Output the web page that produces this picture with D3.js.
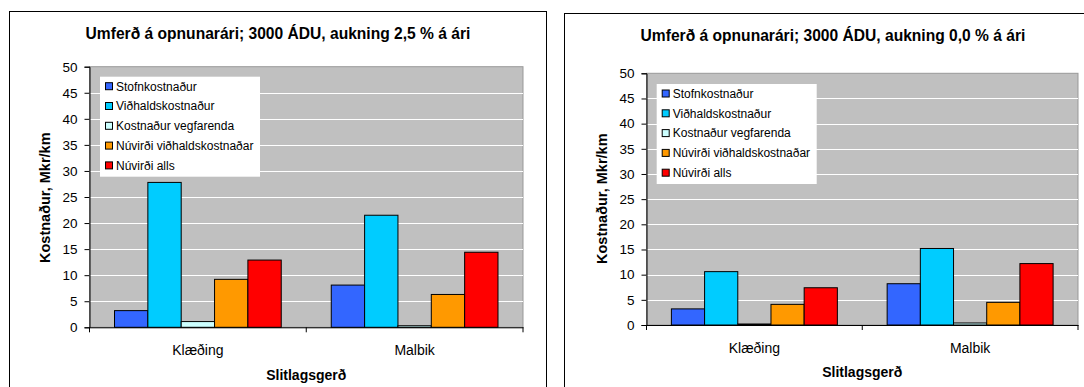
<!DOCTYPE html>
<html>
<head>
<meta charset="utf-8">
<script src="https://cdn.jsdelivr.net/npm/d3@7"></script>
<style>
  html, body { margin: 0; padding: 0; background: #fff; }
  svg { display: block; font-family: "Liberation Sans", Arial, sans-serif; }
</style>
</head>
<body>
<svg id="chart" width="1084" height="387"></svg>
<script>
// Categories and series
const categories = ["Klæðing", "Malbik"];
const seriesNames = [
  "Stofnkostnaður",
  "Viðhaldskostnaður",
  "Kostnaður vegfarenda",
  "Núvirði viðhaldskostnaðar",
  "Núvirði alls"
];
const seriesColors = ["#3366FF", "#00CCFF", "#CCFFFF", "#FF9900", "#FF0000"];

// Values (Mkr/km), one array per surface type, in series order
const growth25Klaeding = [3.2, 27.8, 1.1, 9.2, 12.9];
const growth25Malbik   = [8.1, 21.5, 0.3, 6.3, 14.4];
const growth00Klaeding = [3.2, 10.6, 0.2, 4.1, 7.4];
const growth00Malbik   = [8.2, 15.2, 0.4, 4.5, 12.2];

const yTicks = [0, 5, 10, 15, 20, 25, 30, 35, 40, 45, 50];
const yTitle = "Kostnaður, Mkr/km";
const xTitle = "Slitlagsgerð";
const titles = [
  "Umferð á opnunarári; 3000 ÁDU, aukning 2,5 % á ári",
  "Umferð á opnunarári; 3000 ÁDU, aukning 0,0 % á ári"
];

const panels = [
  {
    title: titles[0],
    values: [growth25Klaeding, growth25Malbik],
    frame: { x: 9.5, y: 11.5, w: 537 },
    plot: { left: 89.5, top: 66.7, right: 523, bottom: 327.3 },
    titleBase: 39, yTitleX: 49.5, yTitleY: 263, catBase: 355, xTitleBase: 379.5,
    legend: { x: 100, y: 76.7, w: 160, h: 100 }
  },
  {
    title: titles[1],
    values: [growth00Klaeding, growth00Malbik],
    frame: { x: 564.5, y: 13.5, w: 537 },
    plot: { left: 646.5, top: 73.3, right: 1078, bottom: 325 },
    titleBase: 41, yTitleX: 607, yTitleY: 264, catBase: 353, xTitleBase: 377,
    legend: { x: 656.7, y: 84, w: 160, h: 100 }
  }
];

const svg = d3.select("#chart");

panels.forEach(p => {
  const g = svg.append("g");

  // Chart frame (extends past the bottom / right edge)
  g.append("rect")
    .attr("x", p.frame.x).attr("y", p.frame.y)
    .attr("width", p.frame.w).attr("height", 400)
    .attr("fill", "#fff").attr("stroke", "#000").attr("stroke-width", 1);

  const y = d3.scaleLinear().domain([0, 50]).range([p.plot.bottom, p.plot.top]);
  const x0 = d3.scaleBand().domain(categories).range([p.plot.left, p.plot.right])
    .paddingInner(0).paddingOuter(0);
  const bw = x0.bandwidth();
  const gap = bw * 0.75 / 6.5; // gap width 150 %
  const x1 = d3.scaleBand().domain(seriesNames).range([gap, bw - gap]).padding(0);

  // Plot area
  g.append("rect")
    .attr("x", p.plot.left).attr("y", p.plot.top)
    .attr("width", p.plot.right - p.plot.left)
    .attr("height", p.plot.bottom - p.plot.top)
    .attr("fill", "#C0C0C0").attr("stroke", "#999").attr("stroke-width", 1);

  // Gridlines
  g.append("g").selectAll("line")
    .data(yTicks.filter(t => t > 0 && t < 50))
    .join("line")
    .attr("x1", p.plot.left).attr("x2", p.plot.right)
    .attr("y1", d => Math.round(y(d)) + 0.5).attr("y2", d => Math.round(y(d)) + 0.5)
    .attr("stroke", "#fff").attr("stroke-width", 1.2);

  // Bars
  const groups = g.append("g").selectAll("g")
    .data(categories.map((c, i) => ({ cat: c, vals: p.values[i] })))
    .join("g")
    .attr("transform", d => `translate(${x0(d.cat)},0)`);
  groups.selectAll("rect")
    .data(d => d.vals.map((v, j) => ({ name: seriesNames[j], v, color: seriesColors[j] })))
    .join("rect")
    .attr("x", d => x1(d.name))
    .attr("y", d => y(d.v))
    .attr("width", x1.bandwidth())
    .attr("height", d => y(0) - y(d.v))
    .attr("fill", d => d.color)
    .attr("stroke", "#000").attr("stroke-width", 1);

  // Y axis
  const yAxis = g.append("g")
    .attr("transform", `translate(${p.plot.left},0)`)
    .call(d3.axisLeft(y).tickValues(yTicks).tickSize(5).tickPadding(7));
  yAxis.select(".domain").attr("stroke", "#000");
  yAxis.selectAll(".tick line").attr("stroke", "#000");
  yAxis.selectAll("text").attr("font-size", 13.5).attr("fill", "#000")
    .attr("font-family", "Liberation Sans, Arial, sans-serif");

  // X axis: line at zero with ticks between categories
  const xAxis = g.append("g")
    .attr("transform", `translate(0,${p.plot.bottom})`)
    .call(d3.axisBottom(x0).tickSize(0).tickFormat(""));
  xAxis.select(".domain").attr("stroke", "#000");
  xAxis.selectAll(".tick").remove();
  const bounds = [p.plot.left, ...categories.map(c => x0(c) + bw)];
  g.append("g").selectAll("line").data(bounds).join("line")
    .attr("x1", d => d).attr("x2", d => d)
    .attr("y1", p.plot.bottom).attr("y2", p.plot.bottom + 5)
    .attr("stroke", "#000");

  // Category labels
  g.append("g").selectAll("text").data(categories).join("text")
    .attr("x", d => x0(d) + bw / 2)
    .attr("y", p.catBase)
    .attr("text-anchor", "middle")
    .attr("font-size", 14)
    .text(d => d);

  // Titles
  g.append("text")
    .attr("x", p.frame.x + p.frame.w / 2)
    .attr("y", p.titleBase)
    .attr("text-anchor", "middle")
    .attr("font-size", 15.6).attr("font-weight", "bold")
    .text(p.title);

  g.append("text")
    .attr("x", (p.plot.left + p.plot.right) / 2)
    .attr("y", p.xTitleBase)
    .attr("text-anchor", "middle")
    .attr("font-size", 14).attr("font-weight", "bold")
    .text(xTitle);

  g.append("text")
    .attr("transform", `translate(${p.yTitleX},${p.yTitleY}) rotate(-90)`)
    .attr("text-anchor", "start")
    .attr("font-size", 14.5).attr("font-weight", "bold")
    .text(yTitle);

  // Legend
  const lg = g.append("g").attr("transform", `translate(${p.legend.x},${p.legend.y})`);
  lg.append("rect")
    .attr("width", p.legend.w).attr("height", p.legend.h)
    .attr("fill", "#fff");
  const items = lg.selectAll("g").data(seriesNames).join("g")
    .attr("transform", (d, i) => `translate(0,${9.5 + i * 19.8})`);
  items.append("rect")
    .attr("x", 5.5).attr("y", -3.5)
    .attr("width", 7).attr("height", 7)
    .attr("fill", (d, i) => seriesColors[i])
    .attr("stroke", "#000").attr("stroke-width", 1);
  items.append("text")
    .attr("x", 16).attr("y", 4.3)
    .attr("font-size", 12)
    .text(d => d);
});
</script>
</body>
</html>
